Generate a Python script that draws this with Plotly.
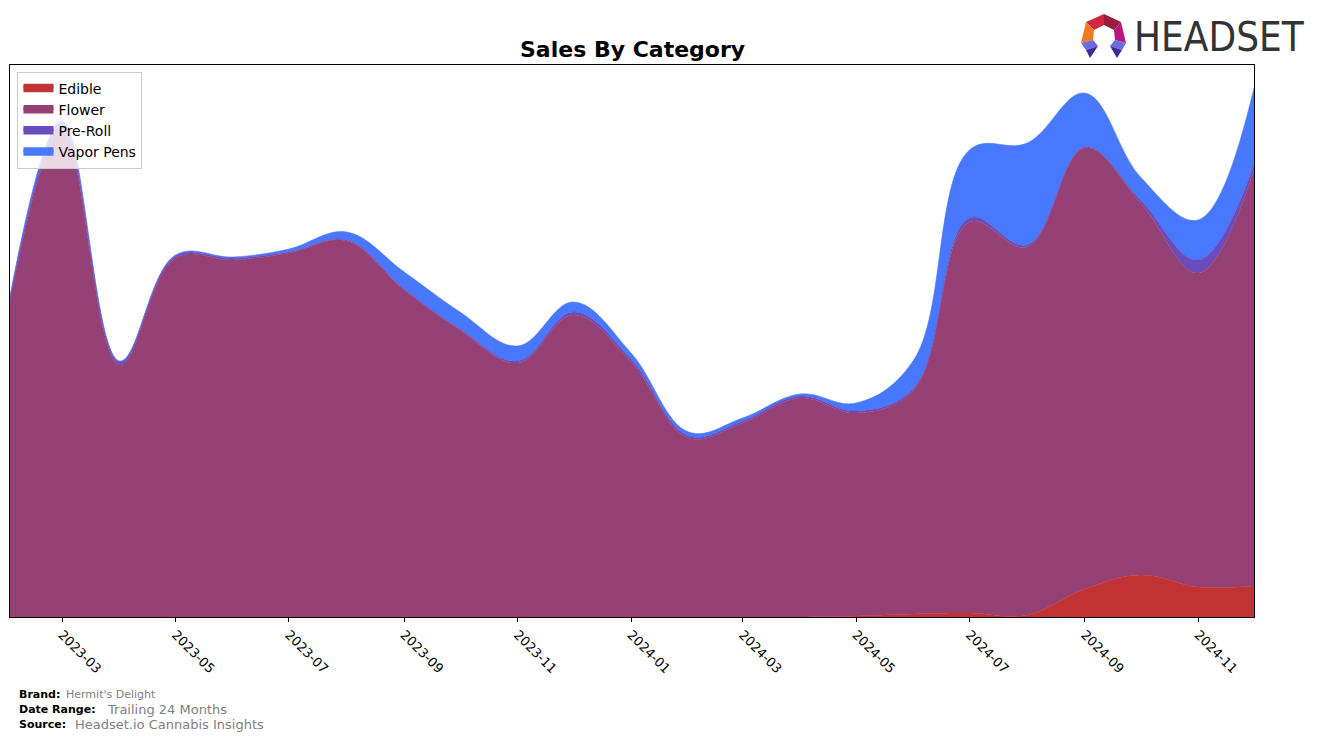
import plotly.graph_objects as go

months = ["2023-02-01", "2023-03-01", "2023-04-01", "2023-05-01", "2023-06-01", "2023-07-01",
          "2023-08-01", "2023-09-01", "2023-10-01", "2023-11-01", "2023-12-01", "2024-01-01",
          "2024-02-01", "2024-03-01", "2024-04-01", "2024-05-01", "2024-06-01", "2024-07-01",
          "2024-08-01", "2024-09-01", "2024-10-01", "2024-11-01", "2024-12-01"]
edible = [0, 0, 0, 0, 0, 0, 0, 0, 0, 0, 0, 0, 0, 0, 0, 1, 3, 4, 2, 28, 42, 30, 31]
flower = [317, 485, 252, 359, 357, 364, 376, 327, 287, 254, 302, 255, 179, 194, 219, 203,
          224, 391, 368, 441, 372, 314, 416]
preroll = [2, 6, 3, 2, 2, 1, 1, 1, 1, 2, 3, 3, 2, 2, 2, 2, 2, 4, 2, 1, 3, 13, 5]
vapor = [2, 5, 1, 1, 1, 3, 8, 17, 17, 15, 10, 6, 4, 3, 2, 8, 28, 68, 102, 54, 23, 40, 77]

tick_vals = ["2023-03-01", "2023-05-01", "2023-07-01", "2023-09-01", "2023-11-01", "2024-01-01",
             "2024-03-01", "2024-05-01", "2024-07-01", "2024-09-01", "2024-11-01"]
tick_text = ["2023-03", "2023-05", "2023-07", "2023-09", "2023-11", "2024-01",
             "2024-03", "2024-05", "2024-07", "2024-09", "2024-11"]

series = [("Edible", edible, "#C23434"), ("Flower", flower, "#964176"),
          ("Pre-Roll", preroll, "#6A4CBE"), ("Vapor Pens", vapor, "#4878FE")]

fig = go.Figure()
for name, vals, col in series:
    fig.add_trace(go.Scatter(x=months, y=vals, name=name, stackgroup="one", mode="lines",
                             line=dict(width=0.6, color=col, shape="spline", smoothing=1.1),
                             fillcolor=col))

W, H = 1318, 740
L, R, T, B = 10, 1254, 65, 617

def px(x):
    return (x - L) / (R - L)

def py(y):
    return (B - y) / (B - T)

def poly(pts, color):
    d = "M " + " L ".join(f"{px(x):.5f},{py(y):.5f}" for x, y in pts) + " Z"
    return dict(type="path", xref="paper", yref="paper", path=d, fillcolor=color,
                line=dict(width=0), layer="above")

shapes = [
    poly([(1086, 22), (1104, 14), (1104, 25), (1094, 30)], "#D0263E"),
    poly([(1104, 14), (1121, 22), (1114, 30), (1104, 25)], "#9C1C40"),
    poly([(1086, 22), (1094, 30), (1093, 40), (1081, 43)], "#F07A22"),
    poly([(1121, 22), (1126, 43), (1115, 40), (1114, 30)], "#B8187E"),
    poly([(1081, 43), (1093, 40), (1098, 46), (1086, 50)], "#6E6BE0"),
    poly([(1086, 50), (1098, 46), (1090, 58)], "#3A2E9E"),
    poly([(1126, 43), (1115, 40), (1110, 46), (1122, 50)], "#6E6BE0"),
    poly([(1122, 50), (1110, 46), (1117, 58)], "#3A2E9E"),
]

annotations = [
    dict(text="<b>Sales By Category</b>", x=0.5, y=py(50), xref="paper", yref="paper",
         showarrow=False, font=dict(family="DejaVu Sans", size=22, color="black"),
         xanchor="center", yanchor="middle"),
    dict(text="HEADSET", x=px(1132), y=py(37), xref="paper", yref="paper", showarrow=False,
         font=dict(family="DejaVu Sans Condensed, Liberation Sans Narrow, Open Sans", size=40,
                   color="#333333"), xanchor="left", yanchor="middle"),
]
footer = [("Brand:", "Hermit's Delight", 694, 64, 11),
          ("Date Range:", "Trailing 24 Months", 709, 105, 13),
          ("Source:", "Headset.io Cannabis Insights", 724, 73, 13)]
for lab, val, yy, xv, fs in footer:
    annotations.append(dict(text=f"<b>{lab}</b>", x=px(17), y=py(yy), xref="paper", yref="paper",
                            showarrow=False, xanchor="left", yanchor="middle",
                            font=dict(family="DejaVu Sans", size=11, color="black")))
    annotations.append(dict(text=val, x=px(xv), y=py(yy), xref="paper", yref="paper",
                            showarrow=False, xanchor="left", yanchor="middle",
                            font=dict(family="DejaVu Sans", size=fs, color="#808080")))

fig.update_layout(
    width=W, height=H,
    margin=dict(l=L, r=W - R, t=T, b=H - B),
    plot_bgcolor="white", paper_bgcolor="white",
    font=dict(family="DejaVu Sans", size=13, color="black"),
    showlegend=True,
    legend=dict(x=0.006, y=0.988, xanchor="left", yanchor="top", traceorder="normal",
                bgcolor="rgba(255,255,255,0.8)", bordercolor="#CCCCCC", borderwidth=1,
                font=dict(size=14), itemsizing="constant", tracegroupgap=0),
    xaxis=dict(range=["2023-02-01", "2024-12-01"], tickvals=tick_vals, ticktext=tick_text,
               tickangle=45, ticks="outside", ticklen=4, tickcolor="black", showgrid=False,
               showline=True, linecolor="black", linewidth=1, mirror=True, zeroline=False,
               tickfont=dict(size=13)),
    yaxis=dict(range=[0, 552], showticklabels=False, ticks="", showgrid=False, showline=True,
               linecolor="black", linewidth=1, mirror=True, zeroline=False),
    shapes=shapes,
    annotations=annotations,
)

fig.write_html("out.html")
